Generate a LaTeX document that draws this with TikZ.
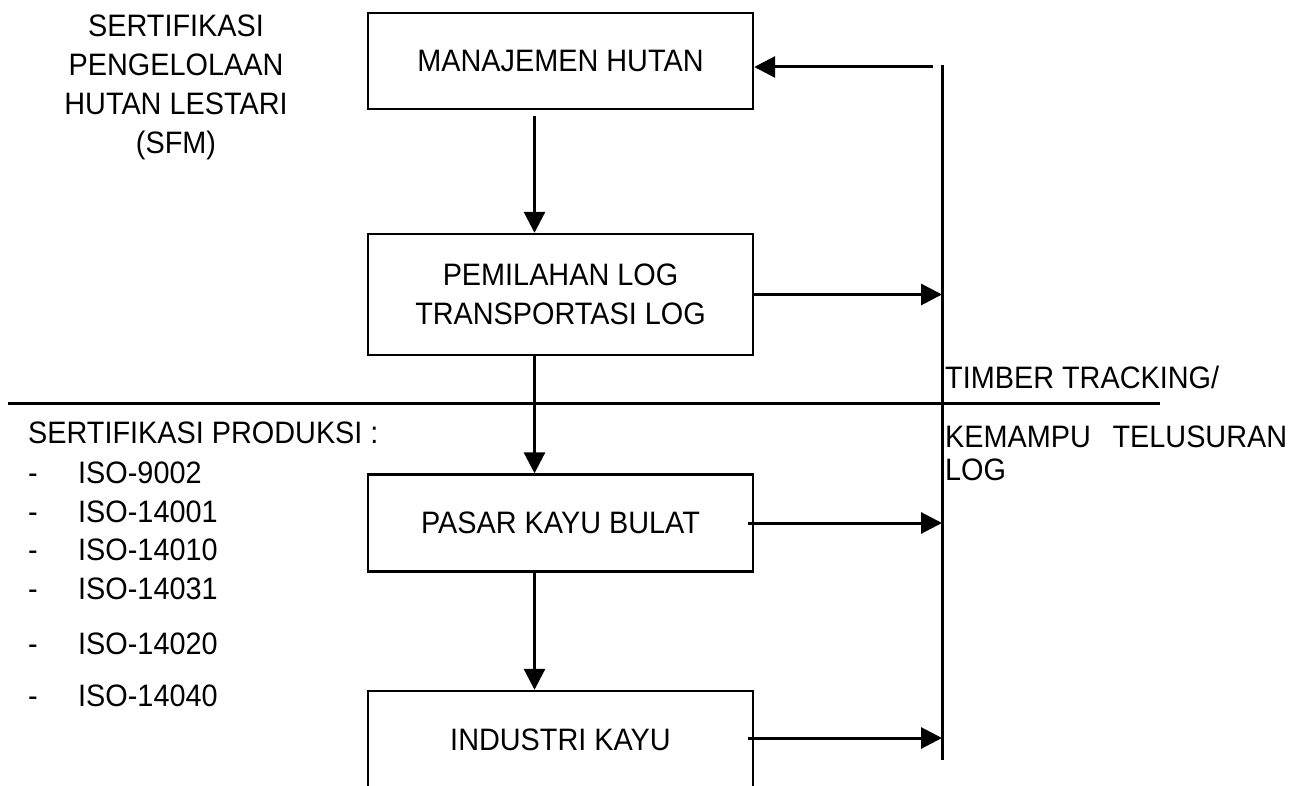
\documentclass[tikz,border=0pt]{standalone}
\usepackage{fontspec}
\setmainfont[FakeStretch=0.93]{Liberation Sans}
\usepackage{tikz}
\usetikzlibrary{arrows.meta}

\begin{document}
\begin{tikzpicture}[x=1pt, y=-1pt,
    every node/.style={font=\fontsize{31}{39}\selectfont, inner sep=0pt},
    box/.style={draw, line width=2.4pt, minimum width=385pt},
    arr/.style={line width=3pt, -{Triangle[length=21pt, width=21pt]}},
    lbl/.style={anchor=base west}]
    \useasboundingbox (0,0) rectangle (1306,786);
    \fill[white] (0,0) rectangle (1306,786);
    \clip (0,0) rectangle (1306,786);
    \node [box, minimum height=96pt] (mh) at (560.5,61) {MANAJEMEN HUTAN};
    \node [box, minimum height=121pt, align=center] (pl) at (560.5,294.5) {PEMILAHAN LOG\\TRANSPORTASI LOG};
    \node [box, minimum height=97pt] (pk) at (560.5,523) {PASAR KAYU BULAT};
    \node [box, minimum height=98pt] (ik) at (560.5,740) {INDUSTRI KAYU};
    \node [anchor=north, align=center] (sfm) at (176,15) {SERTIFIKASI\\PENGELOLAAN\\HUTAN LESTARI\\(SFM)};
    \node [lbl] (prod) at (28,443) {SERTIFIKASI PRODUKSI :};
    \foreach \y/\iso in {483/9002, 522/14001, 560/14010, 599/14031, 654/14020, 706/14040} {
        \node [lbl] (dash\iso) at (28,\y) {-};
        \node [lbl] (iso\iso) at (78,\y) {ISO-\iso};
    }
    \node [lbl] (tt) at (945,388) {TIMBER TRACKING/};
    \node [lbl] (kt) at (945,447) {\makebox[342pt][s]{KEMAMPU\hfill TELUSURAN}};
    \node [lbl] (log) at (945,480) {LOG};
    \coordinate (vtop) at (942,65);
    \coordinate (vbot) at (942,760);
    \coordinate (back) at (933,67);
    \coordinate (hl) at (8,403);
    \coordinate (hr) at (1160,403);
    \draw [line width=3pt] (vtop) -- (vbot);
    \draw [line width=3pt] (hl) -- (hr);
    \draw [arr] (back) -- (back -| mh.east);
    \draw [arr] ([xshift=-26pt, yshift=-6pt]mh.south) -- ([xshift=-26pt]pl.north);
    \draw [arr] ([xshift=-26pt]pl.south) -- ([xshift=-26pt]pk.north);
    \draw [arr] ([xshift=-26pt]pk.south) -- ([xshift=-26pt]ik.north);
    \draw [arr] (pl.east) -- (pl.east -| vtop);
    \draw [arr] ([xshift=-6pt]pk.east) -- (pk.east -| vtop);
    \draw [arr] ([xshift=-6pt, yshift=2pt]ik.east) -- ([yshift=2pt]ik.east -| vtop);
\end{tikzpicture}
\end{document}
